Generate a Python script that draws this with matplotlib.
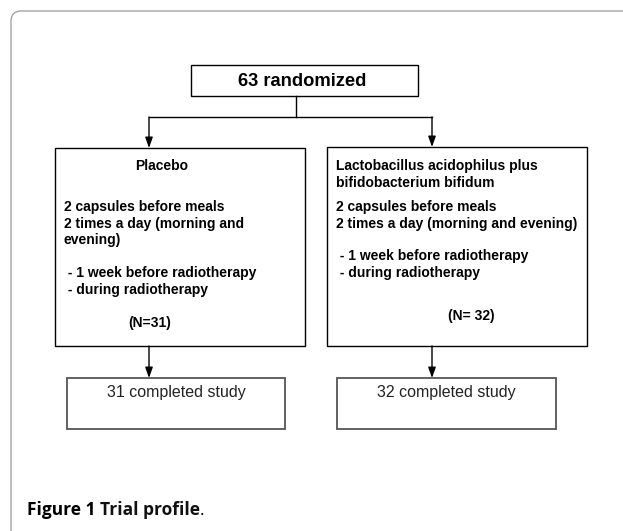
import matplotlib
matplotlib.use("Agg")
import matplotlib.pyplot as plt
from matplotlib.patches import Rectangle, FancyBboxPatch

# ---- data ----
total_label = "63 randomized"
arm_titles = ["Placebo", "Lactobacillus acidophilus plus\nbifidobacterium bifidum"]
arm_dosing = ["2 capsules before meals\n2 times a day (morning and\nevening)",
              "2 capsules before meals\n2 times a day (morning and evening)"]
arm_timing = [" - 1 week before radiotherapy\n - during radiotherapy",
              " - 1 week before radiotherapy\n - during radiotherapy"]
arm_n = ["(N=31)", "(N= 32)"]
completed = ["31 completed study", "32 completed study"]
caption_bold = "Figure 1"
caption_rest = "Trial profile"

W, H = 623, 531
fig = plt.figure(figsize=(W / 100, H / 100), dpi=100)
ax = fig.add_axes([0, 0, 1, 1])
ax.set_xlim(0, W)
ax.set_ylim(H, 0)
ax.axis("off")

FONT = "Liberation Sans"
FS = 10
LS = 1.24

# outer frame
frame = FancyBboxPatch((11, 11), 700, 600, boxstyle="round,pad=0,rounding_size=10",
                       fc="white", ec="#9a9a9a", lw=0.9)
ax.add_patch(frame)

def box(x0, y0, x1, y1, ec="black", lw=1.0):
    ax.add_patch(Rectangle((x0, y0), x1 - x0, y1 - y0, fc="white", ec=ec, lw=lw))

def arrow(x, y0, y1):
    ax.annotate("", xy=(x, y1), xytext=(x, y0),
                arrowprops=dict(arrowstyle="-|>,head_length=0.7,head_width=0.25",
                                color="black", lw=1.0, shrinkA=0, shrinkB=0,
                                mutation_scale=9))

# top box
box(191, 65, 418, 96)
ax.text(302, 81, total_label, ha="center", va="center", fontsize=13.2,
        fontweight="bold", family=FONT)

# connectors
ax.plot([296, 296], [96, 117], color="black", lw=1.0)
ax.plot([149, 432], [117, 117], color="black", lw=1.0)
arrow(149, 117, 148)
arrow(432, 117, 147)

# arm boxes
arm_boxes = [(55, 148, 305, 346), (327, 147, 587, 346)]
title_pos = [(135, 159), (336, 159)]
dose_pos = [(64, 200), (336, 200)]
time_pos = [(64, 266), (336, 249)]
n_pos = [(150, 323), (471, 316)]
for i in range(2):
    box(*arm_boxes[i])
    ax.text(*title_pos[i], arm_titles[i], ha="left", va="top",
            fontsize=FS, fontweight="bold", family=FONT, linespacing=LS)
    ax.text(*dose_pos[i], arm_dosing[i], ha="left", va="top", fontsize=FS,
            fontweight="bold", family=FONT, linespacing=LS)
    ax.text(*time_pos[i], arm_timing[i], ha="left", va="top", fontsize=FS,
            fontweight="bold", family=FONT, linespacing=LS)
    ax.text(*n_pos[i], arm_n[i], ha="center", va="center", fontsize=FS,
            fontweight="bold", family=FONT)

# arrows to completed boxes
arrow(149, 346, 378)
arrow(432, 346, 378)

comp_boxes = [(67, 378, 285, 429), (337, 378, 556, 429)]
for i in range(2):
    x0, y0, x1, y1 = comp_boxes[i]
    box(x0, y0, x1, y1, ec="#555555", lw=1.3)
    ax.text((x0 + x1) / 2, 393, completed[i], ha="center", va="center",
            fontsize=11.5, family=FONT, color="#222222")

# caption
t = ax.text(27, 515, caption_bold + " ", ha="left", va="baseline", fontsize=12.5,
            fontweight="bold", family="Open Sans")
fig.canvas.draw()
bb = t.get_window_extent()
x_next = ax.transData.inverted().transform((bb.x1, 0))[0]
t2 = ax.text(x_next, 515, caption_rest, ha="left", va="baseline", fontsize=12.5,
             fontweight="bold", family="Open Sans", color="#111111")
fig.canvas.draw()
bb2 = t2.get_window_extent()
x_next2 = ax.transData.inverted().transform((bb2.x1, 0))[0]
ax.text(x_next2, 515, ".", ha="left", va="baseline", fontsize=12.5, family="Open Sans")

fig.savefig("out.png", dpi=100)
